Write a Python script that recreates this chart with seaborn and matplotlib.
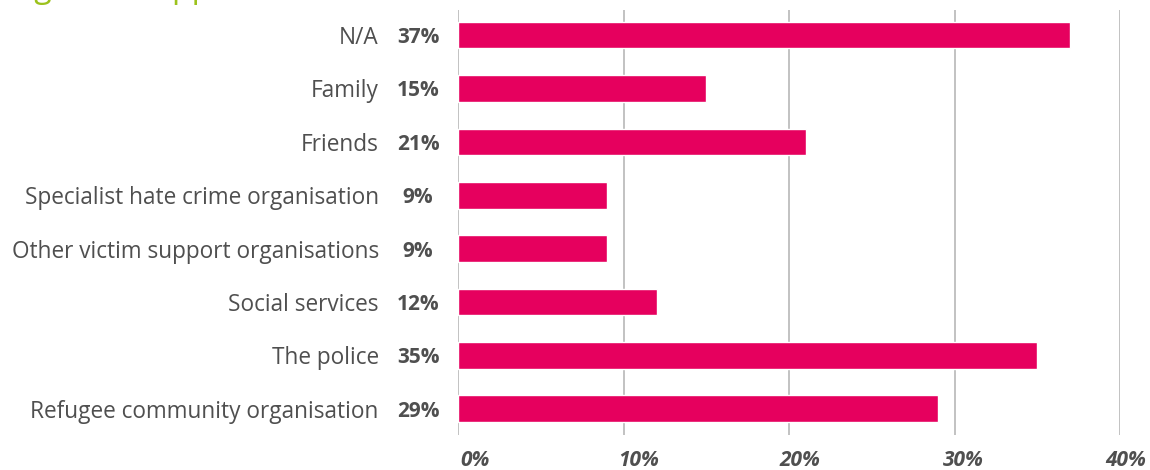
import matplotlib
matplotlib.use("Agg")
import matplotlib.pyplot as plt
import matplotlib.transforms as mtransforms
import pandas as pd
import seaborn as sns

# Survey responses: who people turned to for support
categories = [
    "N/A",
    "Family",
    "Friends",
    "Specialist hate crime organisation",
    "Other victim support organisations",
    "Social services",
    "The police",
    "Refugee community organisation",
]
shares = [37, 15, 21, 9, 9, 12, 35, 29]
x_ticks = [0, 10, 20, 30, 40]
x_tick_labels = ["0%", "10%", "20%", "30%", "40%"]
title_text = "Agencies approached"

BAR_COLOR = "#E6005E"
TEXT_COLOR = "#4F4F4F"
GRID_COLOR = "#B8B8B8"
TITLE_COLOR = "#9CC21C"

df = pd.DataFrame({"category": categories, "share": shares})

sns.set_theme(style="white")
plt.rcParams["font.family"] = ["Open Sans", "DejaVu Sans"]

fig = plt.figure(figsize=(11.5, 4.7), dpi=100)
ax = fig.add_axes([458 / 1150, 1 - 435 / 470, (1120 - 458) / 1150, (435 - 10) / 470])

sns.barplot(data=df, x="share", y="category", orient="h", color=BAR_COLOR,
            width=0.5, saturation=1, ax=ax, zorder=3)

ax.set_xlim(0, 40)
ax.set_ylim(7.49, -0.47)
ax.set_xlabel("")
ax.set_ylabel("")

# vertical gridlines, drawn behind the bars
ax.set_xticks(x_ticks)
ax.grid(axis="x", color=GRID_COLOR, linewidth=1.2, zorder=0)
ax.grid(axis="y", visible=False)
for s in ax.spines.values():
    s.set_visible(False)

# x tick labels: bold italic, nudged right of their gridlines
ax.set_xticklabels(x_tick_labels, fontsize=15, fontweight="bold",
                   fontstyle="italic", color=TEXT_COLOR)
ax.tick_params(axis="x", length=0, pad=11)
nudges_px = [17, 15, 11, 9, 6]
for lbl, dx in zip(ax.get_xticklabels(), nudges_px):
    lbl.set_transform(lbl.get_transform()
                      + mtransforms.ScaledTranslation(dx / 100, 0, fig.dpi_scale_trans))

# category names on the left
ax.set_yticks(range(len(categories)))
ax.set_yticklabels(categories, fontsize=16.3, color=TEXT_COLOR)
ax.tick_params(axis="y", length=0, pad=57)

# percentage labels between the names and the bars
ytrans = ax.get_yaxis_transform()
for i, v in enumerate(shares):
    ax.text((418 - 458) / (1120 - 458), i, f"{v}%", transform=ytrans,
            ha="center", va="center_baseline", fontsize=15, fontweight="bold",
            color=TEXT_COLOR)

# heading, mostly above the canvas edge
fig.text(14 / 1150, 1 + 3 / 470, title_text, ha="left", va="baseline",
         fontsize=23, color=TITLE_COLOR)

fig.savefig("out.png", dpi=100)
